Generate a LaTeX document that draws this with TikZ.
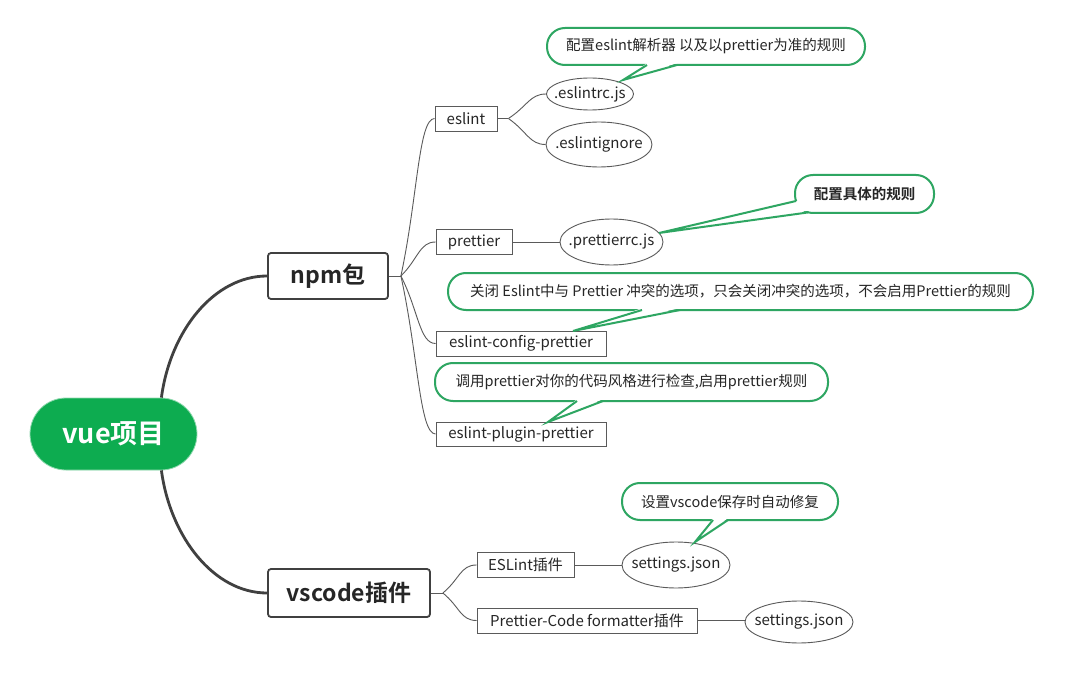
\documentclass[tikz,border=0pt]{standalone}
\usepackage{fontspec}
\setmainfont{Noto Sans CJK SC}[BoldFont={Noto Sans CJK SC Bold}]
\usetikzlibrary{shapes.geometric,calc}
\definecolor{rootgreen}{HTML}{0DAC50}
\definecolor{callgreen}{HTML}{2EA662}
\definecolor{linegray}{HTML}{5A5A5A}
\definecolor{darkline}{HTML}{404040}
\definecolor{txt}{HTML}{262626}
\newcommand\mmlink[2]{\draw[branch] (#1) .. controls ($(#1)!.5!(#2.west)$) and ($(#2.west)+(-16,0)$) .. (#2.west);}
\newcommand\mmptr[5]{\fill[white] #4 -- #3 -- #5 -- cycle; \draw[ptr] #1 -- #3 -- #2;}
\newcommand\ectext[1]{\makebox[0pt][c]{#1}}
\begin{document}
\begin{tikzpicture}[x=1pt,y=-1pt,
  rootnode/.style={rectangle, rounded corners=36pt, fill=rootgreen, draw=rootgreen!45, line width=0.8pt, text=white, font=\bfseries\fontsize{27}{30}\selectfont, minimum width=167pt, minimum height=72pt, inner sep=0},
  mainbox/.style={rectangle, rounded corners=3pt, draw=darkline, line width=1.8pt, fill=white, font=\bfseries\fontsize{23}{26}\selectfont, text=txt, inner sep=0},
  leafbox/.style={rectangle, draw=linegray, line width=0.9pt, fill=white, font=\fontsize{15}{17}\selectfont, text=txt, inner sep=0, minimum height=25pt},
  leafell/.style={ellipse, draw=linegray, line width=0.9pt, fill=white, font=\fontsize{15}{17}\selectfont, text=txt, inner sep=0},
  callout/.style={rectangle, rounded corners=18pt, draw=callgreen, line width=2pt, fill=white, font=\fontsize{14.5}{17}\selectfont, text=txt, inner sep=0, minimum height=37pt},
  trunk/.style={darkline, line width=2.8pt},
  branch/.style={linegray, line width=0.9pt},
  ptr/.style={callgreen, line width=2pt, line join=miter}
]
\useasboundingbox[fill=white] (0,0) rectangle (1080,690);

% main nodes
\node[rootnode] (root) at (113.5,434) {vue项目};
\node[mainbox, minimum width=120pt, minimum height=46pt] (npm) at (328,276) {npm包};
\node[mainbox, minimum width=162pt, minimum height=48pt] (vscode) at (349,593) {vscode插件};

% npm children
\node[leafbox, minimum width=62pt] (eslint) at (466,118.5) {eslint};
\node[leafell, minimum width=87pt, minimum height=32pt] (eslintrc) at (590,94) {\ectext{.eslintrc.js}};
\node[leafell, minimum width=106pt, minimum height=45pt] (eslintignore) at (599,144.5) {\ectext{.eslintignore}};
\node[leafbox, minimum width=76pt] (prettier) at (474,242) {prettier};
\node[leafell, minimum width=103pt, minimum height=46pt] (prettierrc) at (611.5,242) {\ectext{.prettierrc.js}};
\node[leafbox, minimum width=170pt] (config) at (521,343.5) {eslint-config-prettier};
\node[leafbox, minimum width=170pt, minimum height=24pt] (plugin) at (521,434) {eslint-plugin-prettier};

% vscode children
\node[leafbox, minimum width=97pt] (eslintplug) at (525.5,565) {ESLint插件};
\node[leafell, minimum width=108pt, minimum height=46pt] (settingsA) at (676,565) {\ectext{settings.json}};
\node[leafbox, minimum width=220pt] (prettierplug) at (587,620.5) {Prettier-Code formatter插件};
\node[leafell, minimum width=108pt, minimum height=42pt] (settingsB) at (799,622) {\ectext{settings.json}};

% callouts
\node[callout, minimum width=318pt] (c1) at (706,46.5) {配置eslint解析器 以及以prettier为准的规则};
\node[callout, minimum width=139pt, minimum height=38pt, font=\bfseries\fontsize{14.5}{17}\selectfont] (c2) at (864.5,194) {配置具体的规则};
\node[callout, minimum width=585pt] (c3) at (740.5,291.5) {关闭 Eslint中与 Prettier 冲突的选项，只会关闭冲突的选项，不会启用Prettier的规则};
\node[callout, minimum width=393pt, minimum height=38pt] (c4) at (631.5,382) {调用prettier对你的代码风格进行检查,启用prettier规则};
\node[callout, minimum width=216pt] (c5) at (730,501.5) {设置vscode保存时自动修复};

% trunk connectors
\draw[trunk] ($(root.north east)+(-36,0)$) .. controls +(9,-67) and +(-53,0) .. (npm.west);
\draw[trunk] ($(root.south east)+(-36,0)$) .. controls +(9,67) and +(-53,0) .. (vscode.west);

% npm branches
\coordinate (nj) at ($(npm.east)+(12,0)$);
\draw[branch] (npm.east) -- (nj);
\mmlink{nj}{eslint}
\mmlink{nj}{prettier}
\mmlink{nj}{config}
\mmlink{nj}{plugin}

% eslint branches
\coordinate (ej) at ($(eslint.east)+(11,0)$);
\draw[branch] (eslint.east) -- (ej);
\mmlink{ej}{eslintrc}
\mmlink{ej}{eslintignore}

\draw[branch] (prettier.east) -- (prettierrc.west);

% vscode branches
\coordinate (vj) at ($(vscode.east)+(12,0)$);
\draw[branch] (vscode.east) -- (vj);
\mmlink{vj}{eslintplug}
\mmlink{vj}{prettierplug}
\draw[branch] (eslintplug.east) -- (settingsA.west);
\draw[branch] (prettierplug.east) -- (prettierplug.east -| settingsB.west);

% callout pointers
\mmptr{(647,65)}{(677,65)}{(623,80)}{(647,63.2)}{(677,63.2)}
\mmptr{(796,201)}{(808.3,212.4)}{(659,233)}{(797.8,201)}{(808.3,210.6)}
\mmptr{(642,310)}{(680,310)}{(573,331)}{(642,308.2)}{(680,308.2)}
\mmptr{(577,401)}{(603,401)}{(548,422)}{(577,399.2)}{(603,399.2)}
\mmptr{(713,520)}{(728,520)}{(695,542)}{(713,518.2)}{(728,518.2)}
\end{tikzpicture}
\end{document}
